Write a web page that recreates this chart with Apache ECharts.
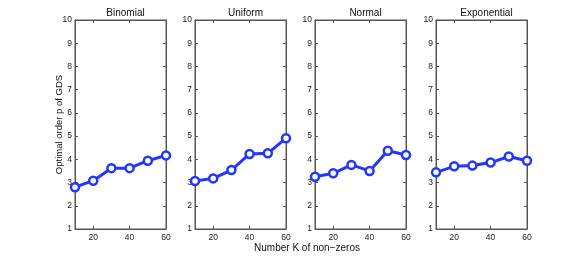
<!DOCTYPE html>
<html><head><meta charset="utf-8">
<script src="https://cdn.jsdelivr.net/npm/echarts@6/dist/echarts.min.js"></script>
<style>html,body{margin:0;padding:0;background:#fff}#c{width:582px;height:258px}</style>
</head><body><div id="c"></div>
<script>
const titles = ['Binomial', 'Uniform', 'Normal', 'Exponential'];
const kValues = [10, 20, 30, 40, 50, 60];
const binomial = [2.8, 3.08, 3.62, 3.62, 3.94, 4.17];
const uniform = [3.07, 3.18, 3.54, 4.23, 4.26, 4.91];
const normal = [3.25, 3.4, 3.76, 3.5, 4.37, 4.19];
const exponential = [3.44, 3.7, 3.73, 3.86, 4.12, 3.94];
const yTicks = [1, 2, 3, 4, 5, 6, 7, 8, 9, 10];
const xTicks = [20, 40, 60];
const yLabel = 'Optimal order p of GDS';
const xLabel = 'Number K of non\u2212zeros';

const seriesData = [binomial, uniform, normal, exponential];
const lefts = [75, 195, 315, 436];
const W = 91, TOP = 20, BOTTOM = 229;
const font = 'Liberation Sans, Arial, sans-serif';
const axisColor = '#555';
const blue = '#2236ff';

const grids = [], xAxes = [], yAxes = [], series = [], titleArr = [];
lefts.forEach((l, i) => {
  grids.push({left: l, top: TOP, width: W, height: BOTTOM - TOP, show: true, borderColor: axisColor, borderWidth: 1, containLabel: false});
  const xBase = {gridIndex: i, type: 'value', min: 10, max: 60, interval: 10,
    axisLine: {show: true, lineStyle: {color: axisColor}},
    splitLine: {show: false},
    axisTick: {show: true, inside: true, length: 3, lineStyle: {color: axisColor},
      customValues: xTicks},
  };
  xAxes.push(Object.assign({}, xBase, {position: 'bottom',
    axisLabel: {show: true, customValues: xTicks, color: '#222', fontSize: 8.5, fontFamily: font, margin: 4}}));
  xAxes.push(Object.assign({}, xBase, {position: 'top', axisLabel: {show: false}}));
  const yBase = {gridIndex: i, type: 'value', min: 1, max: 10, interval: 1,
    axisLine: {show: true, lineStyle: {color: axisColor}},
    splitLine: {show: false},
    axisTick: {show: true, inside: true, length: 3, lineStyle: {color: axisColor}}};
  yAxes.push(Object.assign({}, yBase, {position: 'left',
    axisLabel: {show: true, color: '#222', fontSize: 8.5, fontFamily: font, margin: 3,
      customValues: yTicks},
    name: i === 0 ? yLabel : '', nameLocation: 'middle', nameGap: 11, nameRotate: 90,
    nameMoveOverlap: false,
    nameTextStyle: {fontSize: 9.5, color: '#111', fontFamily: font}}));
  yAxes.push(Object.assign({}, yBase, {position: 'right', axisLabel: {show: false}}));
  titleArr.push({text: titles[i], left: l + W / 2, top: 3, textAlign: 'center',
    textStyle: {fontSize: 10, fontWeight: 'normal', color: '#111', fontFamily: font}});
  series.push({type: 'line', xAxisIndex: 2 * i, yAxisIndex: 2 * i,
    data: kValues.map((k, j) => [k, seriesData[i][j]]),
    symbol: 'circle', symbolSize: 8, showSymbol: true,
    lineStyle: {color: blue, width: 3},
    itemStyle: {color: '#fff', borderColor: blue, borderWidth: 2.5},
    emphasis: {disabled: true}, silent: true, animation: false, clip: false});
});
titleArr.push({text: xLabel, left: 302, top: 238, textAlign: 'center',
  textStyle: {fontSize: 10, fontWeight: 'normal', color: '#111', fontFamily: font}});

const chart = echarts.init(document.getElementById('c'), null, {renderer: 'canvas'});
chart.setOption({animation: false, title: titleArr, grid: grids, xAxis: xAxes, yAxis: yAxes, series: series});
</script></body></html>
